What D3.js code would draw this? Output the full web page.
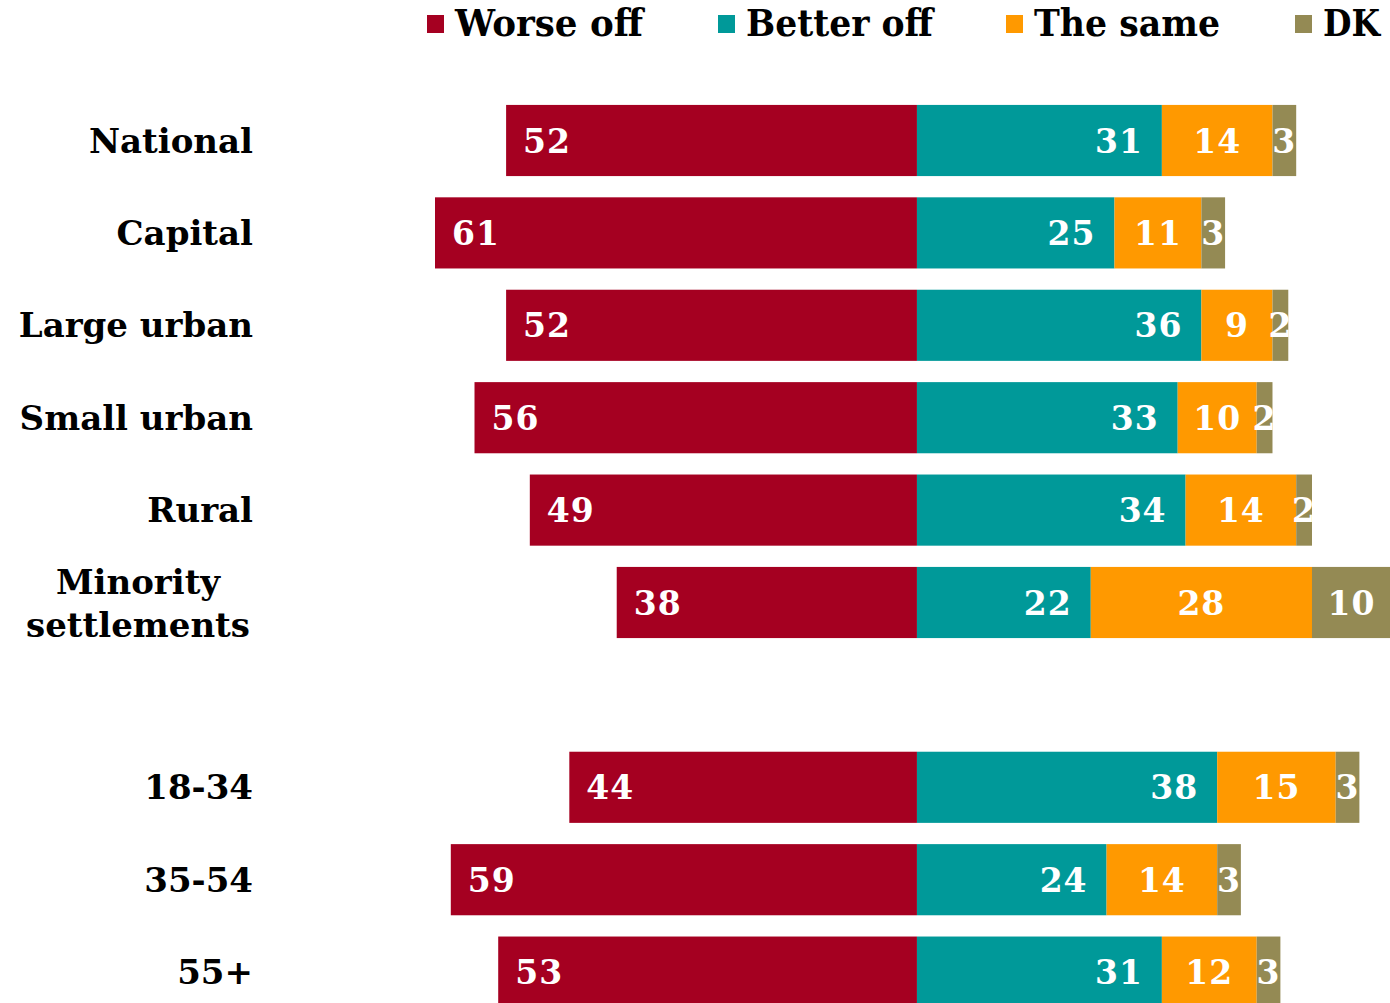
<!DOCTYPE html>
<html><head><meta charset="utf-8">
<script src="https://cdn.jsdelivr.net/npm/d3@7"></script>
<style>body{margin:0;background:#fff}svg{display:block}</style>
</head><body><svg id="c" width="1390" height="1003"></svg>
<script>
const categories = ["National","Capital","Large urban","Small urban","Rural","Minority settlements","","18-34","35-54","55+"];
const worseOff  = [52,61,52,56,49,38,null,44,59,53];
const betterOff = [31,25,36,33,34,22,null,38,24,31];
const theSame   = [14,11,9,10,14,28,null,15,14,12];
const dk        = [3,3,2,2,2,10,null,3,3,3];
const seriesNames = ["Worse off","Better off","The same","DK"];
const colors = ["#A50021","#009999","#FF9900","#948A54"];

const svg = d3.select("#c");
const font = "'DejaVu Serif', serif";
const x = d3.scaleLinear().domain([-61, 60]).range([435, 1391]);
const y = d3.scaleBand().domain(categories.map((c,i)=>i)).range([94.3, 1018.3]).paddingInner(0.23).paddingOuter(0.115);

const rows = categories.map((c,i)=>({c,i,w:worseOff[i],b:betterOff[i],s:theSame[i],d:dk[i]})).filter(r=>r.w!=null);

const g = svg.append("g");
rows.forEach(r=>{
  const top = y(r.i), h = y.bandwidth(), cy = top + h/2;
  const segs = [
    {x0:-r.w, x1:0, v:r.w, col:colors[0], anchor:"start"},
    {x0:0, x1:r.b, v:r.b, col:colors[1], anchor:"end"},
    {x0:r.b, x1:r.b+r.s, v:r.s, col:colors[2], anchor:"middle"},
    {x0:r.b+r.s, x1:r.b+r.s+r.d, v:r.d, col:colors[3], anchor:"middle"}
  ];
  segs.forEach(s=>{
    g.append("rect").attr("x",x(s.x0)).attr("y",top).attr("width",x(s.x1)-x(s.x0)).attr("height",h).attr("fill",s.col);
    let tx = s.anchor==="start" ? x(s.x0)+17 : s.anchor==="end" ? x(s.x1)-19 : (x(s.x0)+x(s.x1))/2;
    g.append("text").attr("x",tx).attr("y",cy+12).attr("text-anchor",s.anchor)
      .attr("fill","#fff").attr("font-family",font).attr("font-weight","bold").attr("font-size",33)
      .style("letter-spacing","1px").text(s.v);
  });
  // category label
  if (r.c === "Minority settlements") {
    const t = g.append("text").attr("text-anchor","middle").attr("font-family",font).attr("font-weight","bold").attr("font-size",34).attr("fill","#000");
    t.append("tspan").attr("x",138).attr("y",cy-9).text("Minority");
    t.append("tspan").attr("x",138).attr("y",cy+34).text("settlements");
  } else {
    g.append("text").attr("x",253).attr("y",cy+12).attr("text-anchor","end").attr("font-family",font).attr("font-weight","bold").attr("font-size",34).attr("fill","#000").text(r.c);
  }
});

// legend
const legX = [427, 718, 1006, 1295];
const legW = [188, 187, 186, 57];
seriesNames.forEach((n,i)=>{
  svg.append("rect").attr("x",legX[i]).attr("y",15).attr("width",17).attr("height",18).attr("fill",colors[i]);
  svg.append("text").attr("x",legX[i]+28).attr("y",36).attr("font-family",font).attr("font-weight","bold").attr("font-size",38)
    .attr("textLength",legW[i]).attr("lengthAdjust","spacingAndGlyphs").attr("fill","#000").text(n);
});
</script></body></html>
